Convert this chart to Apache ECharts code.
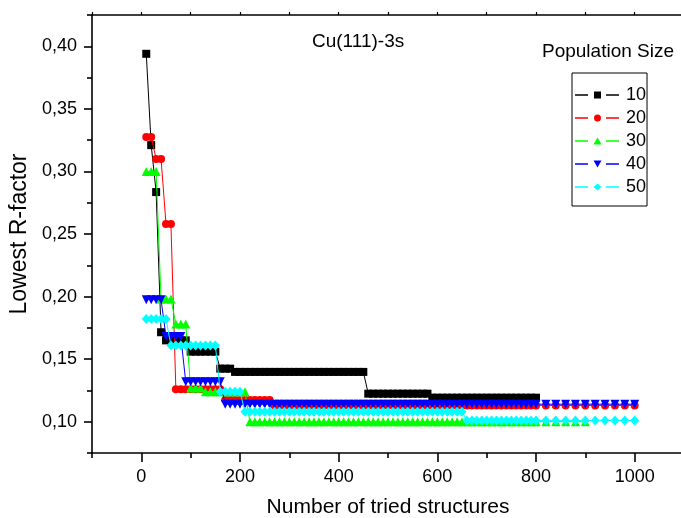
<!DOCTYPE html>
<html>
<head>
<meta charset="utf-8">
<script src="https://cdn.jsdelivr.net/npm/echarts@6/dist/echarts.min.js"></script>
<style>html,body{margin:0;padding:0;background:#fff;}#c{width:681px;height:518px;}</style>
</head>
<body>
<div id="c"></div>
<script>
// x values: number of tried structures
const tried = [
  10,20,30,40,50,60,70,80,90,100,
  110,120,130,140,150,160,170,180,190,200,
  210,220,230,240,250,260,270,280,290,300,
  310,320,330,340,350,360,370,380,390,400,
  410,420,430,440,450,460,470,480,490,500,
  510,520,530,540,550,560,570,580,590,600,
  610,620,630,640,650,660,670,680,690,700,
  710,720,730,740,750,760,770,780,790,800,
  820,840,860,880,900,920,940,960,980,1000
];
const seriesNames = ['10','20','30','40','50'];
const pop10 = [
  0.394,0.321,0.2835,0.1715,0.165,0.165,0.165,0.165,0.165,0.156,
  0.156,0.156,0.156,0.156,0.156,0.1424,0.1424,0.1424,0.1398,0.1398,
  0.1398,0.1398,0.1398,0.1398,0.1398,0.1398,0.1398,0.1398,0.1398,0.1398,
  0.1398,0.1398,0.1398,0.1398,0.1398,0.1398,0.1398,0.1398,0.1398,0.1398,
  0.1398,0.1398,0.1398,0.1398,0.1398,0.1224,0.1224,0.1224,0.1224,0.1224,
  0.1224,0.1224,0.1224,0.1224,0.1224,0.1224,0.1224,0.1224,0.1192,0.1192,
  0.1192,0.1192,0.1192,0.1192,0.1192,0.1192,0.1192,0.1192,0.1192,0.1192,
  0.1192,0.1192,0.1192,0.1192,0.1192,0.1192,0.1192,0.1192,0.1192,0.1192
];
const pop20 = [
  0.3275,0.3275,0.31,0.31,0.258,0.258,0.126,0.126,0.126,0.126,
  0.126,0.126,0.126,0.126,0.126,0.126,0.1174,0.1174,0.1174,0.1174,
  0.1174,0.1174,0.1174,0.1174,0.1174,0.1174,0.113,0.113,0.113,0.113,
  0.113,0.113,0.113,0.113,0.113,0.113,0.113,0.113,0.113,0.113,
  0.113,0.113,0.113,0.113,0.113,0.113,0.113,0.113,0.113,0.113,
  0.113,0.113,0.113,0.113,0.113,0.113,0.113,0.113,0.113,0.113,
  0.113,0.113,0.113,0.113,0.113,0.113,0.113,0.113,0.113,0.113,
  0.113,0.113,0.113,0.113,0.113,0.113,0.113,0.113,0.113,0.113,
  0.113,0.113,0.113,0.113,0.113,0.113,0.113,0.113,0.113,0.113
];
const pop30 = [
  0.30,0.30,0.30,0.198,0.198,0.198,0.178,0.178,0.178,0.127,
  0.127,0.127,0.124,0.124,0.124,0.124,0.124,0.124,0.124,0.124,
  0.124,0.100,0.100,0.100,0.100,0.100,0.100,0.100,0.100,0.100,
  0.100,0.100,0.100,0.100,0.100,0.100,0.100,0.100,0.100,0.100,
  0.100,0.100,0.100,0.100,0.100,0.100,0.100,0.100,0.100,0.100,
  0.100,0.100,0.100,0.100,0.100,0.100,0.100,0.100,0.100,0.100,
  0.100,0.100,0.100,0.100,0.100,0.100,0.100,0.100,0.100,0.100,
  0.100,0.100,0.100,0.100,0.100,0.100,0.100,0.100,0.100,0.100,
  0.100,0.100,0.100,0.100,0.100
];
const pop40 = [
  0.1975,0.1975,0.1975,0.1975,0.168,0.168,0.168,0.168,0.132,0.132,
  0.132,0.132,0.132,0.132,0.132,0.132,0.114,0.114,0.114,0.114,
  0.114,0.114,0.114,0.114,0.114,0.114,0.114,0.114,0.114,0.114,
  0.114,0.114,0.114,0.114,0.114,0.114,0.114,0.114,0.114,0.114,
  0.114,0.114,0.114,0.114,0.114,0.114,0.114,0.114,0.114,0.114,
  0.114,0.114,0.114,0.114,0.114,0.114,0.114,0.114,0.114,0.114,
  0.114,0.114,0.114,0.114,0.114,0.114,0.114,0.114,0.114,0.114,
  0.114,0.114,0.114,0.114,0.114,0.114,0.114,0.114,0.114,0.114,
  0.114,0.114,0.114,0.114,0.114,0.114,0.114,0.114,0.114,0.114
];
const pop50 = [
  0.182,0.182,0.182,0.182,0.182,0.161,0.161,0.161,0.161,0.161,
  0.161,0.161,0.161,0.161,0.161,0.124,0.124,0.124,0.124,0.124,
  0.108,0.108,0.108,0.108,0.108,0.108,0.108,0.108,0.108,0.108,
  0.108,0.108,0.108,0.108,0.108,0.108,0.108,0.108,0.108,0.108,
  0.108,0.108,0.108,0.108,0.108,0.108,0.108,0.108,0.108,0.108,
  0.108,0.108,0.108,0.108,0.108,0.108,0.108,0.108,0.108,0.108,
  0.108,0.108,0.108,0.108,0.108,0.101,0.101,0.101,0.101,0.101,
  0.101,0.101,0.101,0.101,0.101,0.101,0.101,0.101,0.101,0.101,
  0.101,0.101,0.101,0.101,0.101,0.101,0.101,0.101,0.101,0.101
];
const xMajorTicks = [0,200,400,600,800,1000];
const xMinorTicks = [-100,100,300,500,700,900,1100];
const yMajorTicks = [0.10,0.15,0.20,0.25,0.30,0.35,0.40];
const yMinorTicks = [0.075,0.125,0.175,0.225,0.275,0.325,0.375,0.425];

const FONT = "'Liberation Sans', Arial, sans-serif";
const values = [pop10, pop20, pop30, pop40, pop50];
const colors = ['#000000','#ff0000','#00ff00','#0000ff','#00ffff'];
const symbols = ['rect','circle','triangle','triangle','diamond'];
const symSizes = [8,8,9,9,[9,10]];
const rotates = [0,0,0,180,0];
const LINES = 'M0,2.8L13,2.8L13,4.2L0,4.2Z M31,2.8L44,2.8L44,4.2L31,4.2Z ';
const legendIcons = [
  'path://' + LINES + 'M19,0L26,0L26,7L19,7Z',
  'path://' + LINES + 'M19,3.5A3.5,3.5,0,1,1,26,3.5A3.5,3.5,0,1,1,19,3.5Z',
  'path://' + LINES + 'M22.5,0L26.5,7L18.5,7Z',
  'path://' + LINES + 'M18.5,0L26.5,0L22.5,7Z',
  'path://' + LINES + 'M22.5,0L26.5,3.5L22.5,7L18.5,3.5Z'
];

const chart = echarts.init(document.getElementById('c'), null, {renderer:'canvas'});
const gridRect = {left:92, top:15, width:592, height:438, containLabel:false, outerBoundsMode:'none'};
const series = values.map((ys, k) => ({
  name: seriesNames[k], type:'line', xAxisIndex:0, yAxisIndex:0,
  data: ys.map((y, i) => [tried[i], y]),
  symbol: symbols[k], symbolSize: symSizes[k], symbolRotate: rotates[k],
  showSymbol:true, showAllSymbol:true,
  lineStyle:{color:colors[k], width:1},
  itemStyle:{color:colors[k]},
  z: 2 + k
}));
const option = {
  animation:false,
  backgroundColor:'#fff',
  textStyle:{fontFamily:FONT},
  title:[
    {text:'Cu(111)-3s', left:312, top:32, padding:0, textStyle:{fontFamily:FONT, fontSize:19, fontWeight:'normal', color:'#000'}},
    {text:'Population Size', left:542, top:42, padding:0, textStyle:{fontFamily:FONT, fontSize:19, fontWeight:'normal', color:'#000'}}
  ],
  legend:{
    orient:'vertical', left:572, top:73,
    padding:[13,1,10,3], itemGap:5, itemWidth:44, itemHeight:7,
    borderColor:'#000', borderWidth:1,
    textStyle:{fontFamily:FONT, fontSize:18, color:'#000', lineHeight:18, padding:[0,0,0,2]},
    data: seriesNames.map((n, k) => ({name:n, icon:legendIcons[k], itemStyle:{color:colors[k]}}))
  },
  grid:[Object.assign({}, gridRect), Object.assign({}, gridRect)],
  xAxis:[
    {type:'value', gridIndex:0, position:'bottom', min:-100, max:1100,
     axisLine:{show:true, onZero:false, lineStyle:{color:'#000', width:1.6}},
     axisTick:{show:true, length:9, customValues:xMajorTicks, lineStyle:{color:'#000', width:1.6}},
     axisLabel:{show:true, customValues:xMajorTicks, margin:15, fontFamily:FONT, fontSize:18, color:'#000',
       formatter: v => String(v)},
     splitLine:{show:false},
     name:'Number of tried structures', nameLocation:'middle', nameGap:44,
     nameTextStyle:{fontFamily:FONT, fontSize:21, color:'#000'}},
    {type:'value', gridIndex:0, position:'top', min:-100, max:1100, interval:100,
     axisLine:{show:true, onZero:false, lineStyle:{color:'#000', width:1.6}},
     axisTick:{show:true, length:3, inside:false, lineStyle:{color:'#000', width:1.2}},
     axisLabel:{show:false}, splitLine:{show:false}},
    {type:'value', gridIndex:1, position:'bottom', min:-100, max:1100,
     axisLine:{show:false, onZero:false},
     axisTick:{show:true, length:5, customValues:xMinorTicks, lineStyle:{color:'#000', width:1.6}},
     axisLabel:{show:false}, splitLine:{show:false}}
  ],
  yAxis:[
    {type:'value', gridIndex:0, position:'left', min:0.075, max:0.425,
     axisLine:{show:true, onZero:false, lineStyle:{color:'#000', width:1.6}},
     axisTick:{show:true, length:8, customValues:yMajorTicks, lineStyle:{color:'#000', width:1.6}},
     axisLabel:{show:true, customValues:yMajorTicks, margin:15, fontFamily:FONT, fontSize:18, color:'#000',
       formatter: v => v.toFixed(2).replace('.', ',')},
     splitLine:{show:false},
     name:'Lowest R-factor', nameLocation:'middle', nameGap:59, nameRotate:90,
     nameTextStyle:{fontFamily:FONT, fontSize:23, color:'#000'}},
    {type:'value', gridIndex:1, position:'left', min:0.075, max:0.425,
     axisLine:{show:false, onZero:false},
     axisTick:{show:true, length:5, customValues:yMinorTicks, lineStyle:{color:'#000', width:1.6}},
     axisLabel:{show:false}, splitLine:{show:false}}
  ],
  series: series
};
chart.setOption(option);
</script>
</body>
</html>
